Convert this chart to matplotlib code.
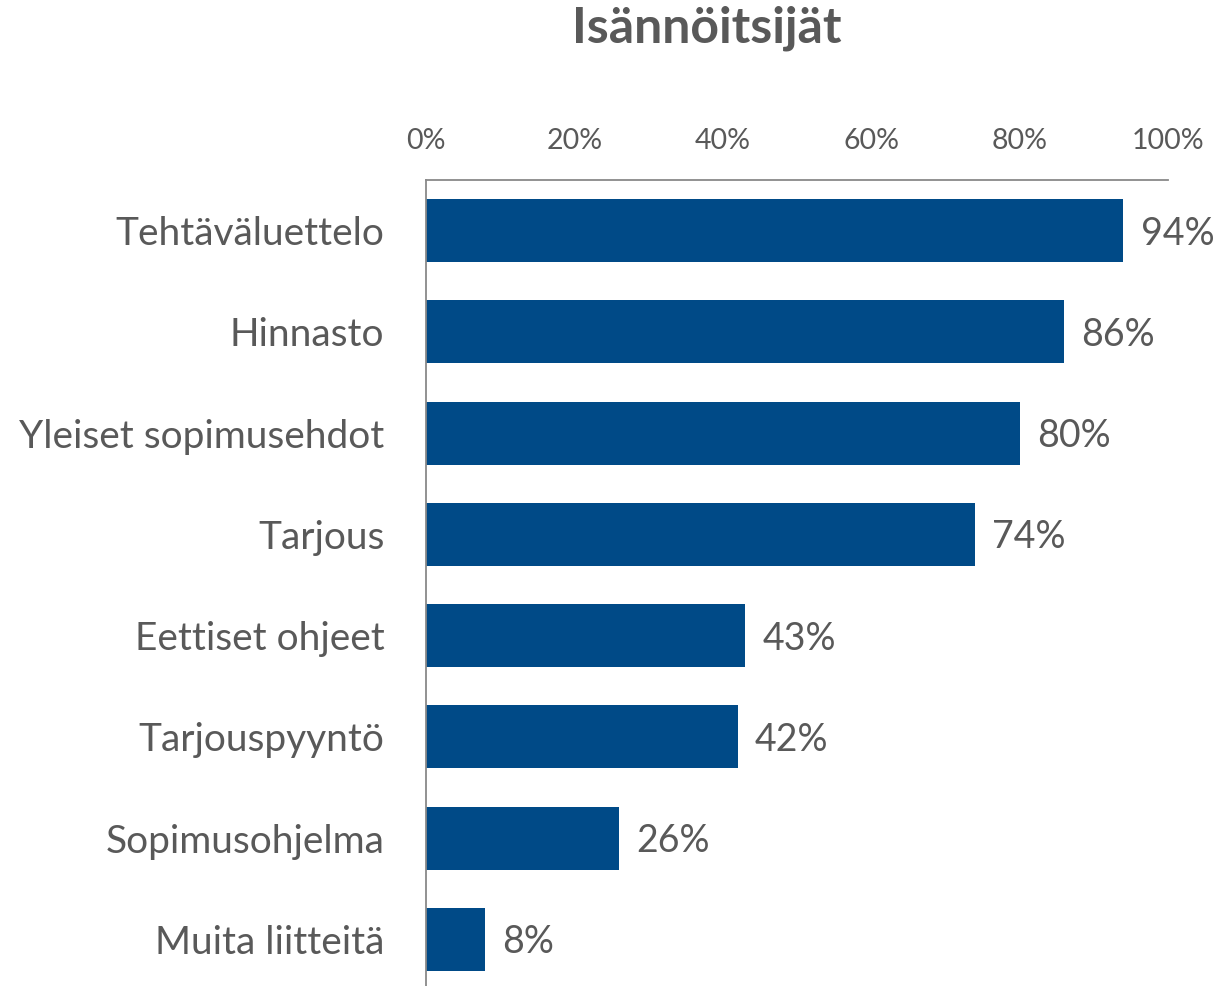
import matplotlib.pyplot as plt
import numpy as np

# data
categories = ['Tehtäväluettelo', 'Hinnasto', 'Yleiset sopimusehdot', 'Tarjous',
              'Eettiset ohjeet', 'Tarjouspyyntö', 'Sopimusohjelma', 'Muita liitteitä']
values = [94, 86, 80, 74, 43, 42, 26, 8]
ticks = [0, 20, 40, 60, 80, 100]
tick_labels = ['0%', '20%', '40%', '60%', '80%', '100%']

text_col = '#595959'
bar_col = '#004A87'

plt.rcParams['font.family'] = ['Lato', 'DejaVu Sans']

fig = plt.figure(figsize=(12.19, 9.86), dpi=100)
ax = fig.add_axes([426 / 1219, 1 - 990 / 986, 742 / 1219, 810 / 986])

y_pos = np.arange(len(categories))
bars = ax.barh(y_pos, values, height=0.62, color=bar_col)

for bar, v in zip(bars, values):
    ax.text(bar.get_width() + 2.3, bar.get_y() + bar.get_height() / 2 + 0.03,
            '%d%%' % v, ha='left', va='center', fontsize=27, color=text_col)

ax.set_xlim(0, 100)
ax.set_ylim(len(categories) - 0.5, -0.5)
ax.set_yticks(y_pos)
ax.set_yticklabels(categories, fontsize=28, color=text_col)
ax.xaxis.tick_top()
ax.set_xticks(ticks)
ax.set_xticklabels(tick_labels, fontsize=20.5, color=text_col)
ax.tick_params(axis='both', length=0)
ax.tick_params(axis='x', pad=18.5)
ax.tick_params(axis='y', pad=30)

for side in ['right', 'bottom']:
    ax.spines[side].set_visible(False)
for side in ['left', 'top']:
    ax.spines[side].set_color('#898989')
    ax.spines[side].set_linewidth(1.3)

fig.text(707 / 1219, 1 - 28 / 986, 'Isännöitsijät', ha='center', va='center',
         fontsize=36, fontweight='bold', color=text_col)

plt.savefig('out.png', dpi=100)
